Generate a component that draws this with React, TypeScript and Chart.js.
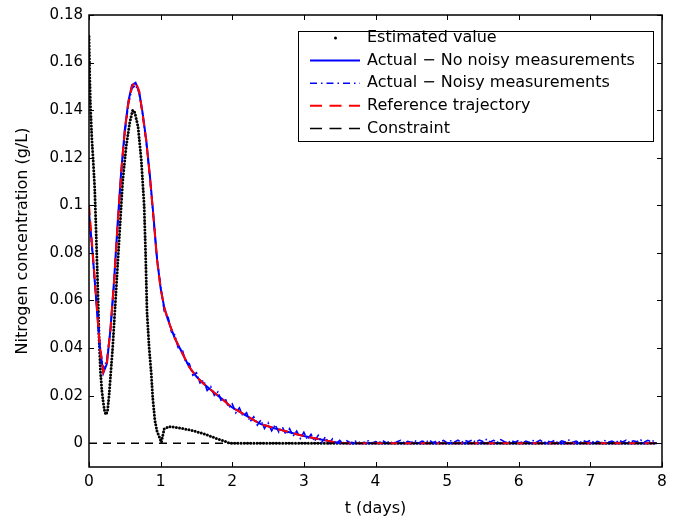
import React, { useEffect, useRef } from "react";
import { Chart, registerables } from "chart.js";

Chart.register(...registerables);

const FONT = '"DejaVu Sans", "Liberation Sans", Arial, sans-serif';

// ---- axis ticks ----
const X_TICKS = [0, 1, 2, 3, 4, 5, 6, 7, 8];
const Y_TICKS = [0, 0.02, 0.04, 0.06, 0.08, 0.1, 0.12, 0.14, 0.16, 0.18];
const X_MIN = 0;
const X_MAX = 8;
const Y_MIN = -0.01;
const Y_MAX = 0.18;

// ---- legend labels ----
const LABELS = [
  "Estimated value",
  "Actual \u2212 No noisy measurements",
  "Actual \u2212 Noisy measurements",
  "Reference trajectory",
  "Constraint",
];

// ---- Estimated value (black dots) ----
const EST_T = [0, 0.01, 0.02, 0.04, 0.06, 0.08, 0.10, 0.12, 0.14, 0.16, 0.18, 0.20, 0.22, 0.24, 0.26, 0.28, 0.30, 0.33, 0.36, 0.40, 0.44, 0.47, 0.52, 0.57, 0.61, 0.64, 0.685, 0.73, 0.77, 0.79, 0.81, 0.84, 0.87, 0.89, 0.92, 0.95, 0.99, 1.01, 1.05, 1.12, 1.25, 1.45, 1.62, 1.78, 1.90, 1.96, 7.93];
const EST_Y = [0.171, 0.155, 0.142, 0.128, 0.118, 0.107, 0.088, 0.068, 0.045, 0.030, 0.022, 0.017, 0.013, 0.012, 0.014, 0.020, 0.028, 0.040, 0.055, 0.075, 0.095, 0.110, 0.125, 0.135, 0.140, 0.139, 0.133, 0.119, 0.100, 0.080, 0.055, 0.040, 0.029, 0.019, 0.0096, 0.005, 0.002, 0.0004, 0.006, 0.007, 0.0065, 0.0053, 0.0038, 0.002, 0.0008, 0, 0];

// ---- Reference trajectory & actual (no noise) ----
const REF_T = [0, 0.05, 0.10, 0.15, 0.20, 0.25, 0.30, 0.35, 0.40, 0.45, 0.50, 0.55, 0.60, 0.65, 0.70, 0.75, 0.80, 0.85, 0.90, 0.95, 1.00, 1.05, 1.10, 1.15, 1.20, 1.25, 1.30, 1.35, 1.40, 1.45, 1.50, 1.55, 1.60, 1.65, 1.70, 1.75, 1.80, 1.85, 1.90, 1.95, 2.00, 2.10, 2.20, 2.30, 2.40, 2.50, 2.60, 2.70, 2.80, 2.90, 3.00, 3.10, 3.20, 3.30, 3.40, 3.50, 3.60, 7.93];
const REF_Y = [0.100, 0.081, 0.061, 0.041, 0.030, 0.034, 0.048, 0.068, 0.092, 0.114, 0.1316, 0.143, 0.150, 0.152, 0.148, 0.138, 0.127, 0.112, 0.095, 0.077, 0.065, 0.057, 0.052, 0.048, 0.044, 0.041, 0.038, 0.035, 0.032, 0.030, 0.028, 0.0265, 0.025, 0.0237, 0.0225, 0.0212, 0.020, 0.0188, 0.0175, 0.0162, 0.015, 0.0133, 0.0115, 0.0097, 0.008, 0.0071, 0.0062, 0.0054, 0.0046, 0.0038, 0.003, 0.0024, 0.0018, 0.0012, 0.0006, 0.0001, 0, 0];
const ACT_Y = [0.097, 0.080, 0.0605, 0.0405, 0.0295, 0.0335, 0.048, 0.0685, 0.0925, 0.1145, 0.1318, 0.1438, 0.1505, 0.1515, 0.1478, 0.1385, 0.1272, 0.1125, 0.0955, 0.0775, 0.0652, 0.0572, 0.0521, 0.048, 0.044, 0.041, 0.038, 0.035, 0.032, 0.030, 0.028, 0.0265, 0.025, 0.0237, 0.0225, 0.0212, 0.020, 0.0188, 0.0175, 0.0162, 0.015, 0.0133, 0.0115, 0.0097, 0.008, 0.0071, 0.0062, 0.0054, 0.0046, 0.0038, 0.003, 0.0024, 0.0018, 0.0012, 0.0006, 0.0001, 0, 0];

// ---- Actual with noisy measurements (sampled every 0.05 day from t = 0) ----
const NOISY_STEP = 0.05;
const NOISY_Y = [
  0.095, 0.0795, 0.0605, 0.0418, 0.0312, 0.0352, 0.0478, 0.0668, 0.0905, 0.1128,
  0.1302, 0.1425, 0.1492, 0.1505, 0.1472, 0.1377, 0.1262, 0.1116, 0.0945, 0.0772,
  0.0662, 0.0555, 0.0536, 0.0468, 0.0454, 0.0394, 0.0397, 0.0340, 0.0335, 0.0286,
  0.0296, 0.0253, 0.0264, 0.0222, 0.0238, 0.0201, 0.0216, 0.0175, 0.0189, 0.0150,
  0.0165, 0.0128, 0.0149, 0.0113, 0.0128, 0.0091, 0.0111, 0.0076, 0.0097, 0.0062,
  0.0086, 0.0052, 0.0078, 0.0046, 0.0068, 0.0037, 0.0061, 0.0030, 0.0051, 0.0020,
  0.0046, 0.0015, 0.0037, 0.0008, 0.0033, 0.0003, 0.0026, -0.0001, 0.0018, -0.0003,
  0.0012, -0.0002, 0.0010, 0.0001, 0.0009,
  0.0008, -0.0001, 0.0005, 0.0010, 0.0000, 0.0007, 0.0002, 0.0011, 0.0001, 0.0008,
  -0.0002, 0.0006, 0.0012, 0.0001, 0.0008, 0.0003, 0.0011, 0.0000, 0.0009, 0.0004,
  0.0013, 0.0002, 0.0009, 0.0005, 0.0012, 0.0001, 0.0010, 0.0004, 0.0013, 0.0003,
  0.0012, 0.0006, 0.0014, 0.0004, 0.0013, 0.0007, 0.0016, 0.0005, 0.0012, 0.0003,
  0.0015, 0.0006, 0.0002, 0.0011, 0.0004, 0.0012, 0.0001, 0.0009, 0.0003, 0.0011,
  0.0005, 0.0013, 0.0002, 0.0009, 0.0004, 0.0012, 0.0001, 0.0010, 0.0005, 0.0013,
  0.0003, 0.0009, 0.0002, 0.0011, 0.0005, 0.0012, 0.0003, 0.0008, 0.0001, 0.0011,
  0.0004, 0.0009, 0.0002, 0.0012, 0.0005, 0.0013, 0.0003, 0.0010, 0.0006, 0.0014,
  0.0004, 0.0012, 0.0006, 0.0013,
];

// ---- Constraint ----
const CON_T = [0, 8];
const CON_Y = [0, 0];

const pts = (t: number[], y: number[]) => t.map((v, i) => ({ x: v, y: y[i] }));

const framePlugin = {
  id: "frameAndLegend",
  afterDatasetsDraw(chart: any) {
    const { ctx, chartArea: a, scales } = chart;
    const xs = scales.x;
    const ys = scales.y;
    ctx.save();
    ctx.strokeStyle = "#000";
    ctx.lineWidth = 1;
    ctx.beginPath();
    for (const v of X_TICKS) {
      const px = Math.round(xs.getPixelForValue(v)) + 0.5;
      ctx.moveTo(px, a.bottom);
      ctx.lineTo(px, a.bottom - 5);
      ctx.moveTo(px, a.top);
      ctx.lineTo(px, a.top + 5);
    }
    for (const v of Y_TICKS) {
      const py = Math.round(ys.getPixelForValue(v)) + 0.5;
      ctx.moveTo(a.left, py);
      ctx.lineTo(a.left + 5, py);
      ctx.moveTo(a.right, py);
      ctx.lineTo(a.right - 5, py);
    }
    ctx.stroke();
    ctx.lineWidth = 1.5;
    ctx.strokeRect(a.left, a.top, a.right - a.left, a.bottom - a.top);

    // legend box
    const bx = 298, by = 31, bw = 355, bh = 110;
    ctx.fillStyle = "#fff";
    ctx.fillRect(bx, by, bw, bh);
    ctx.lineWidth = 1;
    ctx.strokeStyle = "#000";
    ctx.strokeRect(bx + 0.5, by + 0.5, bw, bh);
    ctx.font = `16px ${FONT}`;
    ctx.textBaseline = "middle";
    ctx.textAlign = "left";
    const ds = chart.data.datasets;
    for (let i = 0; i < ds.length; i++) {
      const d = ds[i];
      const cy = by + 7 + i * 22.6;
      if (i === 0) {
        ctx.fillStyle = "#000";
        ctx.beginPath();
        ctx.arc(335.5, cy, 1.5, 0, Math.PI * 2);
        ctx.fill();
      } else {
        ctx.save();
        ctx.strokeStyle = d.borderColor;
        ctx.lineWidth = d.borderWidth;
        ctx.setLineDash(d.legendDash || d.borderDash || []);
        ctx.beginPath();
        ctx.moveTo(310, cy);
        ctx.lineTo(360, cy);
        ctx.stroke();
        ctx.restore();
      }
      ctx.fillStyle = "#000";
      ctx.fillText(d.label, 367, cy);
    }
    ctx.restore();
  },
};

export default function App() {
  const ref = useRef<HTMLCanvasElement | null>(null);
  useEffect(() => {
    if (!ref.current) return;
    const chart = new Chart(ref.current, {
      type: "line",
      data: {
        datasets: [
          {
            label: LABELS[0],
            data: pts(EST_T, EST_Y),
            borderColor: "#000",
            borderWidth: 3,
            borderDash: [0, 3.2],
            borderCapStyle: "round",
            pointRadius: 0,
            tension: 0,
            order: 5,
          },
          {
            label: LABELS[1],
            data: pts(REF_T, ACT_Y),
            borderColor: "#0000ff",
            borderWidth: 2,
            pointRadius: 0,
            tension: 0,
            order: 4,
          },
          {
            label: LABELS[2],
            data: NOISY_Y.map((v, i) => ({ x: i * NOISY_STEP, y: v })),
            borderColor: "#0000ff",
            borderWidth: 1.6,
            borderDash: [7, 2.5, 1.5, 2.5],
            legendDash: [7, 4, 1.5, 4],
            pointRadius: 0,
            tension: 0,
            order: 3,
          },
          {
            label: LABELS[3],
            data: pts(REF_T, REF_Y),
            borderColor: "#ff0000",
            borderWidth: 2,
            borderDash: [10, 6],
            legendDash: [12, 7.5],
            pointRadius: 0,
            tension: 0,
            order: 2,
          },
          {
            label: LABELS[4],
            data: pts(CON_T, CON_Y),
            borderColor: "#000",
            borderWidth: 1.5,
            borderDash: [8, 6],
            legendDash: [12, 7.5],
            pointRadius: 0,
            tension: 0,
            order: 1,
          },
        ] as any,
      },
      options: {
        animation: false,
        responsive: false,
        maintainAspectRatio: false,
        devicePixelRatio: 1,
        layout: { padding: { left: 0, right: 14, top: 15, bottom: 0 } },
        plugins: { legend: { display: false }, tooltip: { enabled: false } },
        scales: {
          x: {
            type: "linear",
            min: X_MIN,
            max: X_MAX,
            afterBuildTicks: (s: any) => {
              s.ticks = X_TICKS.map((v) => ({ value: v }));
            },
            afterFit: (s: any) => {
              s.height = 53;
            },
            grid: { display: false, drawTicks: false },
            border: { display: false },
            ticks: {
              color: "#000",
              font: { family: FONT, size: 15.5 },
              padding: 6,
              maxRotation: 0,
              callback: (v: any) => String(v),
            },
            title: {
              display: true,
              text: "t (days)",
              color: "#000",
              font: { family: FONT, size: 16 },
              padding: { top: 0, bottom: 2 },
            },
          },
          y: {
            type: "linear",
            min: Y_MIN,
            max: Y_MAX,
            afterBuildTicks: (s: any) => {
              s.ticks = Y_TICKS.map((v) => ({ value: v }));
            },
            afterFit: (s: any) => {
              s.width = 89;
            },
            grid: { display: false, drawTicks: false },
            border: { display: false },
            ticks: {
              color: "#000",
              font: { family: FONT, size: 15 },
              padding: 6,
              callback: (v: any) => String(Number(Number(v).toFixed(2))),
            },
            title: {
              display: true,
              text: "Nitrogen concentration (g/L)",
              color: "#000",
              font: { family: FONT, size: 16 },
              padding: { top: 13, bottom: 0 },
            },
          },
        },
      },
      plugins: [framePlugin],
    });
    return () => chart.destroy();
  }, []);
  return (
    <div style={{ position: "fixed", left: 0, top: 0, width: 676, height: 520, background: "#fff" }}>
      <canvas ref={ref} width={676} height={520} style={{ display: "block" }} />
    </div>
  );
}
